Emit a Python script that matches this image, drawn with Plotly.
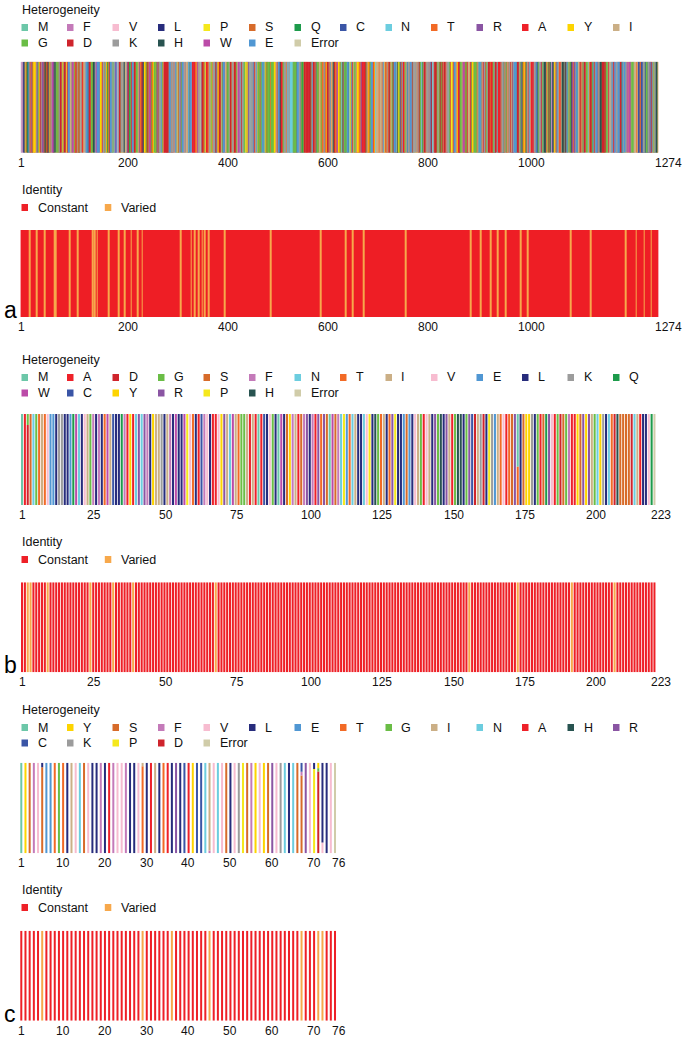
import plotly.graph_objects as go

W, H = 683, 1038

# ---------------- data ----------------
SPIKE = (
    "MFVFLVLLPLVSSQCVNLTTRTQLPPAYTNSFTRGVYYPDKVFRSSVLHSTQDLFLPFFSNVTWFHAIHVSGTNGTKRFD"
    "NPVLPFNDGVYFASTEKSNIIRGWIFGTTLDSKTQSLLIVNNATNVVIKVCEFQFCNDPFLGVYYHKNNKSWMESEFRVY"
    "SSANNCTFEYVSQPFLMDLEGKQGNFKNLREFVFKNIDGYFKIYSKHTPINLVRDLPQGFSALEPLVDLPIGINITRFQT"
    "LLALHRSYLTPGDSSSGWTAGAAAYYVGYLQPRTFLLKYNENGTITDAVDCALDPLSETKCTLKSFTVEKGIYQTSNFRV"
    "QPTESIVRFPNITNLCPFGEVFNATRFASVYAWNRKRISNCVADYSVLYNSASFSTFKCYGVSPTKLNDLCFTNVYADSF"
    "VIRGDEVRQIAPGQTGKIADYNYKLPDDFTGCVIAWNSNNLDSKVGGNYNYLYRLFRKSNLKPFERDISTEIYQAGSTPC"
    "NGVEGFNCYFPLQSYGFQPTNGVGYQPYRVVVLSFELLHAPATVCGPKKSTNLVKNKCVNFNFNGLTGTGVLTESNKKFL"
    "PFQQFGRDIADTTDAVRDPQTLEILDITPCSFGGVSVITPGTNTSNQVAVLYQDVNCTEVPVAIHADQLTPTWRVYSTGS"
    "NVFQTRAGCLIGAEHVNNSYECDIPIGAGICASYQTQTNSPRRARSVASQSVIAYTMSLGAENSVAYSNNSIAIPTNFTI"
    "SVTTEILPVSMTKTSVDCTMYICGDSTECSNLLLQYGSFCTQLNRALTGIAVEQDKNTQEVFAQVKQIYKTPPIKDFGGF"
    "NFSQILPDPSKPSKRSFIEDLLFNKVTLADAGFIKQYGDCLGDIAARDLICAQKFNGLTVLPPLLTDEMIAQYTSALLAG"
    "TITSGWTFGAGAALQIPFAMQMAYRFNGIGVTQNVLYENQKLIANQFNSAIGKIQDSLSSTASALGKLQDVVNQNAQALN"
    "TLVKQLSSNFGAISSVLNDILSRLDKVEAEVQIDRLITGRLQSLQTYVTQQLIRAAEIRASANLAATKMSECVLGQSKRV"
    "DFCGKGYHLMSFPQSAPHGVVFLHVTYVPAQEKNFTTAPAICHDGKAHFPREGVFVSNGTHWFVTQRNFYEPQIITTDNT"
    "FVSGNCDVVIGIVNNTVYDPLQPELDSFKEELDKYFKNHTSPDVDLGDISGINASVVNIQKEIDRLNEVAKNLNESLIDL"
    "QELGKYEQYIKWPWYIWLGFIAGLIAIVMVTIMLCCMTSCCSCLKGCCSCGSCCKFDEDDSEPVLKGVKLHYT"
)
MEMBRANE = (
    "MADSNGTITVEELKKLLEQWNLVIGFLFLTWICLLQFAYANRNRFLYIIKLIFLWLLWPVTLACFVLAAVYRINWITGG"
    "IAIAMACLVGLMWLSYFIASFRLFARTRSMWSFNPETNILLNVPLHGTILTRPLLESELVIGAVILRGHLRIAGHHLGRC"
    "DIKDLPKEITVATSRTLSYYKLGASQRVAGDSGFAAYSRYRIGNYKLNTDHSSSSDNIALLVQ"
)
ENVELOPE = "MYSFVSEETGTLIVNSVLLFLAFVVFLLVTLAILTALRLCAYCCNIVNVSLVKPSFYVYSRVKNLNSSRVPDLLV"

LEGEND_A = ["M", "F", "V", "L", "P", "S", "Q", "C", "N", "T", "R", "A", "Y", "I",
            "G", "D", "K", "H", "W", "E", "Error"]
LEGEND_B = ["M", "A", "D", "G", "S", "F", "N", "T", "I", "V", "E", "L", "K", "Q",
            "W", "C", "Y", "R", "P", "H", "Error"]
LEGEND_C = ["M", "Y", "S", "F", "V", "L", "E", "T", "G", "I", "N", "A", "H", "R",
            "C", "K", "P", "D", "Error"]

COLORS = {
    "M": "#6cc7a8", "F": "#c47ab9", "V": "#f7bcd0", "L": "#272c7c", "P": "#f5e81c",
    "S": "#d76b2a", "Q": "#1d9b4b", "C": "#3a55a6", "N": "#6ccddf", "T": "#f26a26",
    "R": "#8a55a3", "A": "#ee2129", "Y": "#fdd400", "I": "#cbaf86", "G": "#6abd46",
    "D": "#cf242c", "K": "#9c9c9c", "H": "#285350", "W": "#bb4ba8", "E": "#5097d3",
    "Error": "#d0cca9",
}
ID_COLORS = {"Constant": "#ee2027", "Varied": "#f7a84b"}

# positions with mixed residues: segments listed bottom -> top (residue, fraction)
MIXED_A = {}
MIXED_B = {3: [("D", 0.88), ("G", 0.12)], 175: [("T", 0.42), ("M", 0.58)]}
MIXED_C = {6: [("S", 0.95), ("L", 0.05)], 30: [("T", 0.96), ("I", 0.04)],
           46: [("F", 0.03), ("I", 0.97)], 68: [("S", 0.86), ("F", 0.04), ("C", 0.10)],
           71: [("P", 0.93), ("L", 0.07)], 72: [("D", 0.90), ("G", 0.04), ("Y", 0.06)],
           73: [("V", 0.12), ("L", 0.88)]}

VARIED_A = [18, 32, 48, 68, 71, 98, 114, 145, 148, 153, 176, 196, 208, 221, 234, 243,
            320, 341, 348, 356, 363, 368, 376, 408, 500, 600, 650, 664, 686, 770, 900,
            920, 940, 954, 970, 1000, 1014, 1100, 1140, 1210, 1230, 1246, 1260]
VARIED_B = [3, 4, 10, 25, 33, 40, 69, 158, 175, 194, 209]
VARIED_C = [6, 30, 37, 46, 68, 72, 73]

TICKS_A = [1, 200, 400, 600, 800, 1000, 1274]
TICKS_B = [1, 25, 50, 75, 100, 125, 150, 175, 200, 223]
TICKS_C = [1, 10, 20, 30, 40, 50, 60, 70, 76]

# ---------------- layout geometry (window pixels) ----------------
PANELS = [
    dict(seq=SPIKE, mixed=MIXED_A, varied=VARIED_A, legend=LEGEND_A, ticks=TICKS_A,
         xdom=(20.7, 658.3), het_y=(61.7, 152.7), id_y=(230, 317), width=1.0, id_width=1.3,
         het_leg=10, id_leg=190, letter="a"),
    dict(seq=MEMBRANE, mixed=MIXED_B, varied=VARIED_B, legend=LEGEND_B, ticks=TICKS_B,
         xdom=(20.6, 655.9), het_y=(414, 505), id_y=(582.3, 672.3), width=0.72, id_width=0.72,
         het_leg=360, id_leg=542, letter="b"),
    dict(seq=ENVELOPE, mixed=MIXED_C, varied=VARIED_C, legend=LEGEND_C, ticks=TICKS_C,
         xdom=(19.2, 337.1), het_y=(762.7, 853.3), id_y=(930.7, 1020.7), width=0.48,
         id_width=0.48, het_leg=710, id_leg=890, letter="c"),
]

FONT = "Liberation Sans, Arial, Helvetica, sans-serif"


def px(x):
    return x / W


def py(y):
    return 1 - y / H


fig = go.Figure()
shapes = []
annotations = []
layout = {}


def draw_legend(title, items, colors, top, col_w, ncols):
    annotations.append(dict(text=title, x=px(20), y=py(top), xref="paper", yref="paper",
                            xanchor="left", yanchor="middle", showarrow=False,
                            font=dict(family=FONT, size=12.5, color="#111")))
    for i, it in enumerate(items):
        r, c = divmod(i, ncols)
        cy = top + 17.5 + r * 15.5
        sx = 21.5 + c * col_w
        shapes.append(dict(type="rect", xref="paper", yref="paper",
                           x0=px(sx), x1=px(sx + 6.5), y0=py(cy + 3.5), y1=py(cy - 3.5),
                           fillcolor=colors[it], line=dict(width=0)))
        annotations.append(dict(text=it, x=px(sx + 14), y=py(cy), xref="paper", yref="paper",
                                xanchor="left", yanchor="middle", showarrow=False,
                                font=dict(family=FONT, size=12.5, color="#111")))


def axis_pair(n, p, ybox):
    xa = "x" if n == 1 else f"x{n}"
    ya = "y" if n == 1 else f"y{n}"
    key = "" if n == 1 else str(n)
    npos = len(p["seq"]) + 1
    layout[f"xaxis{key}"] = dict(
        domain=[px(p["xdom"][0]), px(p["xdom"][1])], range=[0.5, npos + 0.5], anchor=ya,
        showgrid=False, zeroline=False, showline=False, ticks="", showticklabels=False,
        fixedrange=True)
    layout[f"yaxis{key}"] = dict(
        domain=[py(ybox[1]), py(ybox[0])], range=[0, 1], anchor=xa,
        showgrid=False, zeroline=False, showticklabels=False, showline=False,
        fixedrange=True)
    # tick labels, placed on the axis scale (left-anchored as in the reference)
    for t in p["ticks"]:
        annotations.append(dict(text=str(t), x=t, xref=xa, y=py(ybox[1] + 10), yref="paper",
                                xanchor="left", yanchor="middle", xshift=-5, showarrow=False,
                                font=dict(family=FONT, size=12, color="#111")))
    return xa, ya


axis_n = 0
for p in PANELS:
    residues = list(p["seq"]) + ["Error"]
    positions = list(range(1, len(residues) + 1))

    # ---- heterogeneity subplot ----
    axis_n += 1
    xa, ya = axis_pair(axis_n, p, p["het_y"])
    segs = {}
    for pos, res in zip(positions, residues):
        parts = p["mixed"].get(pos, [(res, 1.0)])
        base = 0.0
        for r, f in parts:
            segs.setdefault(r, ([], [], []))
            segs[r][0].append(pos)
            segs[r][1].append(f)
            segs[r][2].append(base)
            base += f
    for r in p["legend"]:
        if r not in segs:
            continue
        xs, ys, bs = segs[r]
        fig.add_trace(go.Bar(x=xs, y=ys, base=bs, width=p["width"], xaxis=xa, yaxis=ya,
                             marker=dict(color=COLORS[r], line=dict(width=0)),
                             name=r, showlegend=False))

    # ---- identity subplot ----
    axis_n += 1
    xa, ya = axis_pair(axis_n, p, p["id_y"])
    varied = set(p["varied"])
    const_x = [q for q in positions if q not in varied]
    var_x = [q for q in positions if q in varied]
    fig.add_trace(go.Bar(x=const_x, y=[1] * len(const_x), width=p["id_width"], xaxis=xa,
                         yaxis=ya, marker=dict(color=ID_COLORS["Constant"], line=dict(width=0)),
                         name="Constant", showlegend=False))
    fig.add_trace(go.Bar(x=var_x, y=[1] * len(var_x), width=p["id_width"], xaxis=xa,
                         yaxis=ya, marker=dict(color=ID_COLORS["Varied"], line=dict(width=0)),
                         name="Varied", showlegend=False))

    draw_legend("Heterogeneity", p["legend"], COLORS, p["het_leg"], 45.5, 14)
    draw_legend("Identity", ["Constant", "Varied"], ID_COLORS, p["id_leg"], 83.3, 2)

    annotations.append(dict(text=p["letter"], x=px(2), y=py(p["id_y"][1] + 8), xref="paper",
                            yref="paper", xanchor="left", yanchor="bottom", showarrow=False,
                            font=dict(family=FONT, size=23, color="#000")))

fig.update_layout(
    width=W, height=H, margin=dict(l=0, r=0, t=0, b=0),
    paper_bgcolor="white", plot_bgcolor="white",
    barmode="overlay", showlegend=False, hovermode=False,
    shapes=shapes, annotations=annotations, **layout)

# remove the default page margin so the figure fills the window from its top-left corner
fig.write_html("out.html", config={"displayModeBar": False},
               post_script="document.body.style.margin='0';document.body.style.padding='0';")
